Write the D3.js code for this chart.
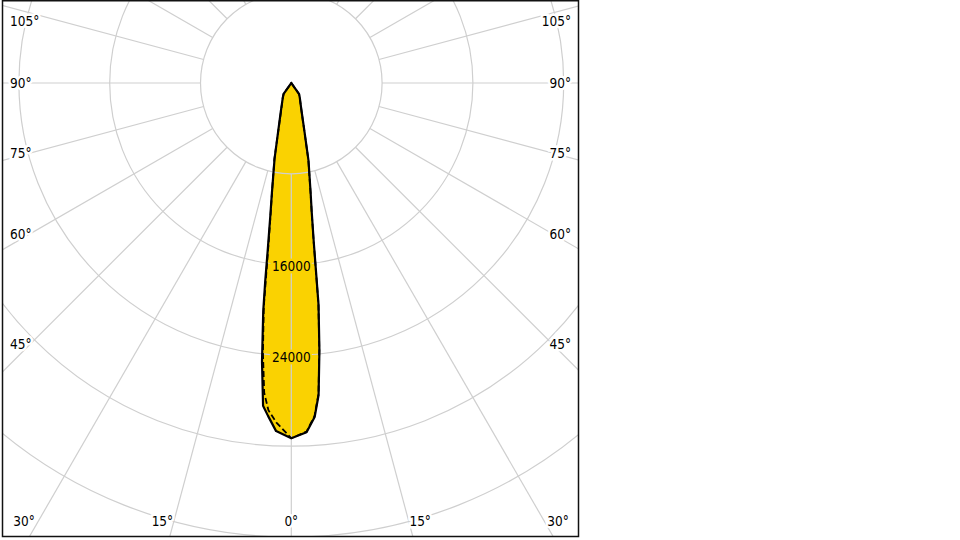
<!DOCTYPE html>
<html><head><meta charset="utf-8">
<script src="https://cdn.jsdelivr.net/npm/d3@7"></script>
<style>
html,body{margin:0;padding:0;background:#fff;}
svg{display:block;}
text{font-family:'DejaVu Sans Condensed','DejaVu Sans',sans-serif;font-stretch:condensed;font-size:13.5px;fill:#000;}
</style></head>
<body>
<svg id="chart" width="960" height="540"></svg>
<script>
// gamma angles (degrees from nadir)
const gammaAngles = [0, 2.5, 4, 5, 6, 7, 7.5, 8, 9, 10, 12.5, 15, 20, 25, 30, 35, 40, 45, 50, 60, 70, 80, 90];
// C0 plane (right half of the solid curve), cd
const c0Values   = [31300, 30800, 29500, 27600, 23700, 19700, 16600, 14300, 11500, 9800, 7000, 4550, 2650, 1900, 1500, 1200, 60, 0, 0, 0, 0, 0, 0];
// C180 plane (left half of the solid curve), cd
const c180Values = [31300, 30700, 29400, 28550, 24700, 20300, 17600, 15000, 11800, 9850, 6800, 4530, 2720, 1930, 1500, 1180, 60, 0, 0, 0, 0, 0, 0];
// C90 / C270 planes (dashed curve)
const c90Values  = [31300, 30750, 29400, 27500, 23600, 19600, 16500, 14200, 11450, 9750, 6950, 4500, 2630, 1890, 1490, 1190, 60, 0, 0, 0, 0, 0, 0];
const c270Values = [31300, 29950, 28900, 27400, 23900, 19900, 16800, 14500, 11600, 9800, 6900, 4500, 2650, 1900, 1500, 1200, 60, 0, 0, 0, 0, 0, 0];
// grid
const ringValues = [8000, 16000, 24000, 32000, 40000, 48000, 56000];
const ringLabels = ["16000", "24000"];
const ringLabelValues = [16000, 24000];
const spokeStep = 15;
const angleLabels = [0, 15, 30, 45, 60, 75, 90, 105];

const svg = d3.select("#chart");
const frame = {x0: 2.5, y0: 0.75, x1: 578.5, y1: 536.5};
const cx = 291.3, cy = 83;
const r = d3.scaleLinear().domain([0, 8000]).range([0, 90.8]);
const toRad = d => d * Math.PI / 180;

svg.append("defs").append("clipPath").attr("id", "clip")
  .append("rect").attr("x", frame.x0).attr("y", frame.y0)
  .attr("width", frame.x1 - frame.x0).attr("height", frame.y1 - frame.y0);

const g = svg.append("g").attr("clip-path", "url(#clip)");
const plot = g.append("g").attr("transform", `translate(${cx},${cy})`);

// polygon points: right side (a = PI - gamma) then left side (a = PI + gamma)
function planePoints(rightVals, leftVals) {
  const pts = [];
  for (let i = gammaAngles.length - 1; i >= 0; i--) pts.push([Math.PI - toRad(gammaAngles[i]), r(rightVals[i])]);
  for (let i = 1; i < gammaAngles.length; i++) pts.push([Math.PI + toRad(gammaAngles[i]), r(leftVals[i])]);
  return pts;
}
const radial = d3.lineRadial().angle(d => d[0]).radius(d => d[1]).curve(d3.curveLinearClosed);

const solidPts = planePoints(c0Values, c180Values);
const dashPts = planePoints(c90Values, c270Values);

// fill
plot.append("path").attr("d", radial(solidPts)).attr("fill", "#FAD201").attr("stroke", "none");

// grid rings
plot.selectAll("circle.ring").data(ringValues).enter().append("circle")
  .attr("r", d => r(d)).attr("fill", "none").attr("stroke", "#cfcfcf").attr("stroke-width", 1.2);

// spokes
const spokes = d3.range(0, 360, spokeStep);
plot.selectAll("line.spoke").data(spokes).enter().append("line")
  .attr("x1", d => r(ringValues[0]) * Math.sin(toRad(d)))
  .attr("y1", d => r(ringValues[0]) * Math.cos(toRad(d)))
  .attr("x2", d => r(70000) * Math.sin(toRad(d)))
  .attr("y2", d => r(70000) * Math.cos(toRad(d)))
  .attr("stroke", "#cfcfcf").attr("stroke-width", 1.2);

// curves
plot.append("path").attr("d", radial(dashPts)).attr("fill", "none")
  .attr("stroke", "#000").attr("stroke-width", 1.8).attr("stroke-dasharray", "6,3");
plot.append("path").attr("d", radial(solidPts)).attr("fill", "none")
  .attr("stroke", "#000").attr("stroke-width", 2.2).attr("stroke-linejoin", "round");

// ring labels on nadir axis
plot.selectAll("text.rl").data(ringLabelValues).enter().append("text")
  .attr("x", 0).attr("y", d => r(d) + 1.5)
  .attr("text-anchor", "middle").attr("dominant-baseline", "central")
  .attr("stroke", "#FAD201").attr("stroke-width", 5).attr("paint-order", "stroke")
  .text((d, i) => ringLabels[i]);

// angle labels
const labelData = [];
angleLabels.forEach(a => {
  const sides = a === 0 ? [1] : [-1, 1];
  sides.forEach(s => labelData.push({a, s}));
});
const lg = g.append("g");
labelData.forEach(({a, s}) => {
  const th = toRad(a);
  const sinT = Math.sin(th), cosT = Math.cos(th);
  const tBottom = cosT > 1e-9 ? (frame.y1 - cy) / cosT : Infinity;
  const tSide = sinT > 1e-9 ? (cx - frame.x0) / sinT : Infinity;
  const t = lg.append("text").attr("dominant-baseline", "central")
    .attr("stroke", "#fff").attr("stroke-width", 5).attr("paint-order", "stroke")
    .text(a + "°");
  if (tBottom <= tSide) {
    let x = cx + s * 481 * Math.tan(th);
    x = Math.max(24, Math.min(558, x));
    t.attr("x", x).attr("y", 521).attr("text-anchor", "middle");
  } else {
    let y = cy + 261 * cosT / sinT;
    y = Math.max(21, y);
    if (s < 0) t.attr("x", 10).attr("text-anchor", "start");
    else t.attr("x", 571).attr("text-anchor", "end");
    t.attr("y", y);
  }
});

// frame
svg.append("rect").attr("x", frame.x0).attr("y", frame.y0)
  .attr("width", frame.x1 - frame.x0).attr("height", frame.y1 - frame.y0)
  .attr("fill", "none").attr("stroke", "#111").attr("stroke-width", 1.5);
</script>
</body></html>
